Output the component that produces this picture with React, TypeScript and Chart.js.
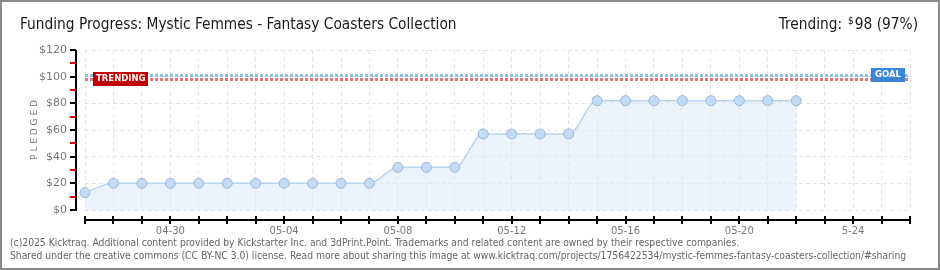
import React, { useEffect, useRef } from "react";
import { Chart, registerables } from "chart.js";

Chart.register(...registerables);

const days: string[] = [
  "04-27", "04-28", "04-29", "04-30", "05-01", "05-02", "05-03", "05-04", "05-05", "05-06",
  "05-07", "05-08", "05-09", "05-10", "05-11", "05-12", "05-13", "05-14", "05-15", "05-16",
  "05-17", "05-18", "05-19", "05-20", "05-21", "05-22", "05-23", "05-24", "05-25", "05-26",
];
const tickLabels: Record<string, string> = {
  "04-30": "04-30", "05-04": "05-04", "05-08": "05-08", "05-12": "05-12",
  "05-16": "05-16", "05-20": "05-20", "05-24": "5-24",
};
const pledged: (number | null)[] = [
  13, 20, 20, 20, 20, 20, 20, 20, 20, 20,
  20, 32, 32, 32, 57, 57, 57, 57, 82, 82,
  82, 82, 82, 82, 82, 82, null, null, null, null,
];
const goal = 101;
const trending = 98;
const yTicks: number[] = [0, 20, 40, 60, 80, 100, 120];

const title = "Funding Progress: Mystic Femmes - Fantasy Coasters Collection";
const footer1 = "(c)2025 Kicktraq. Additional content provided by Kickstarter Inc. and 3dPrint.Point. Trademarks and related content are owned by their respective companies.";
const footer2 = "Shared under the creative commons (CC BY-NC 3.0) license. Read more about sharing this image at www.kicktraq.com/projects/1756422534/mystic-femmes-fantasy-coasters-collection/#sharing";

const COND = "'DejaVu Sans Condensed', 'DejaVu Sans'";

const decor = {
  id: "decor",
  beforeDatasetsDraw(chart: any) {
    const ctx = chart.ctx;
    const ca = chart.chartArea;
    const y = chart.scales.y;
    ctx.save();
    ctx.lineWidth = 3;
    ctx.setLineDash([3, 2]);
    ctx.strokeStyle = "rgba(110,165,225,0.75)";
    const gy = Math.round(y.getPixelForValue(goal)) + 0.5;
    ctx.beginPath(); ctx.moveTo(ca.left, gy); ctx.lineTo(ca.right, gy); ctx.stroke();
    ctx.strokeStyle = "rgba(215,70,70,0.75)";
    const ty = Math.round(y.getPixelForValue(trending)) + 0.5;
    ctx.beginPath(); ctx.moveTo(ca.left, ty); ctx.lineTo(ca.right, ty); ctx.stroke();
    ctx.restore();
  },
  afterDraw(chart: any) {
    const ctx = chart.ctx;
    const ca = chart.chartArea;
    const x = chart.scales.x;
    const y = chart.scales.y;
    ctx.save();
    ctx.strokeStyle = "#8a8a8a";
    ctx.lineWidth = 2;
    ctx.strokeRect(1, 1, 938, 268);
    const ax = ca.left - 9;
    ctx.fillStyle = "#000";
    ctx.fillRect(ax - 1, ca.top, 2, ca.bottom - ca.top + 1);
    for (let v = 0; v <= 120; v += 10) {
      const py = Math.round(y.getPixelForValue(v));
      ctx.fillStyle = v % 20 === 0 ? "#000" : "#e00000";
      ctx.fillRect(ax - 6, py - 1, 6, 2);
    }
    const ay = ca.bottom + 10;
    ctx.fillStyle = "#000";
    ctx.fillRect(ca.left - 1, ay - 1, ca.right - ca.left + 2, 2);
    for (let i = 0; i < days.length; i++) {
      const px = Math.round(x.getPixelForValue(i));
      ctx.fillRect(px - 1, ay - 4, 2, 8);
    }
    const ty = Math.round(y.getPixelForValue(trending));
    ctx.fillStyle = "#c00000";
    ctx.fillRect(ca.left + 8, ty - 7, 55, 14);
    ctx.fillStyle = "#fff";
    ctx.font = "bold 8.5px 'DejaVu Sans'";
    ctx.textBaseline = "middle";
    ctx.textAlign = "left";
    ctx.fillText("TRENDING", ca.left + 11, ty);
    const gy = Math.round(y.getPixelForValue(goal));
    ctx.fillStyle = "rgba(50,130,215,0.95)";
    ctx.fillRect(ca.right - 39, gy - 7, 34, 14);
    ctx.fillStyle = "#fff";
    ctx.fillText("GOAL", ca.right - 35, gy);
    ctx.save();
    ctx.translate(35, (ca.top + ca.bottom) / 2);
    ctx.rotate(-Math.PI / 2);
    ctx.fillStyle = "#777";
    ctx.font = "9px 'DejaVu Sans'";
    ctx.textAlign = "center";
    ctx.fillText("P L E D G E D", 0, 0);
    ctx.restore();
    ctx.fillStyle = "#1a1a1a";
    ctx.font = "15.3px " + COND;
    ctx.textAlign = "left";
    ctx.textBaseline = "alphabetic";
    ctx.fillText(title, 20, 29);
    ctx.textAlign = "right";
    const rest = "98 (97%)";
    const wRest = ctx.measureText(rest).width;
    ctx.fillText(rest, 918, 29);
    ctx.font = "10px " + COND;
    const wDol = ctx.measureText("$").width;
    ctx.fillText("$", 918 - wRest - 1, 24);
    ctx.font = "15.3px " + COND;
    ctx.fillText("Trending:", 918 - wRest - wDol - 7, 29);
    ctx.textAlign = "left";
    ctx.fillStyle = "#666";
    ctx.font = "10.25px " + COND;
    ctx.fillText(footer1, 10, 246);
    ctx.fillText(footer2, 10, 259);
    ctx.restore();
  },
};

export default function App() {
  const ref = useRef<HTMLCanvasElement | null>(null);
  useEffect(() => {
    document.body.style.margin = "0";
    const chart = new Chart(ref.current as HTMLCanvasElement, {
      type: "line",
      data: {
        labels: days,
        datasets: [
          {
            data: pledged,
            borderColor: "#b9d3ef",
            borderWidth: 1.5,
            backgroundColor: "rgba(222,235,250,0.6)",
            fill: "origin",
            cubicInterpolationMode: "monotone",
            pointRadius: 5,
            pointBackgroundColor: "#c3dbf5",
            pointBorderColor: "#98b7da",
            pointBorderWidth: 1,
            spanGaps: false,
          },
        ],
      },
      options: {
        animation: false,
        responsive: false,
        layout: { padding: { left: 0, right: 30, top: 50, bottom: 0 } },
        plugins: { legend: { display: false }, tooltip: { enabled: false } },
        scales: {
          x: {
            offset: false,
            afterFit: (s: any) => { s.height = 60; },
            grid: { color: "#e4e4e4", drawTicks: false, tickLength: 0 },
            border: { display: false, dash: [4, 3] },
            ticks: {
              autoSkip: false,
              maxRotation: 0,
              padding: 15,
              color: "#777",
              font: { family: "'DejaVu Sans'", size: 10 },
              callback: (_v: any, i: number) => tickLabels[days[i]] || "",
            },
          },
          y: {
            min: 0,
            max: 120,
            afterFit: (s: any) => { s.width = 85; },
            afterBuildTicks: (s: any) => { s.ticks = yTicks.map((v) => ({ value: v })); },
            grid: { color: "#e4e4e4", drawTicks: false, tickLength: 0 },
            border: { display: false, dash: [4, 3] },
            ticks: {
              padding: 18,
              color: "#777",
              font: { family: "'DejaVu Sans'", size: 11 },
              callback: (v: any) => "$" + v,
            },
          },
        },
      },
      plugins: [decor],
    });
    return () => chart.destroy();
  }, []);
  return (
    <div style={{ position: "fixed", left: 0, top: 0, width: 940, height: 270, background: "#fff" }}>
      <canvas ref={ref} width={940} height={270} />
    </div>
  );
}
